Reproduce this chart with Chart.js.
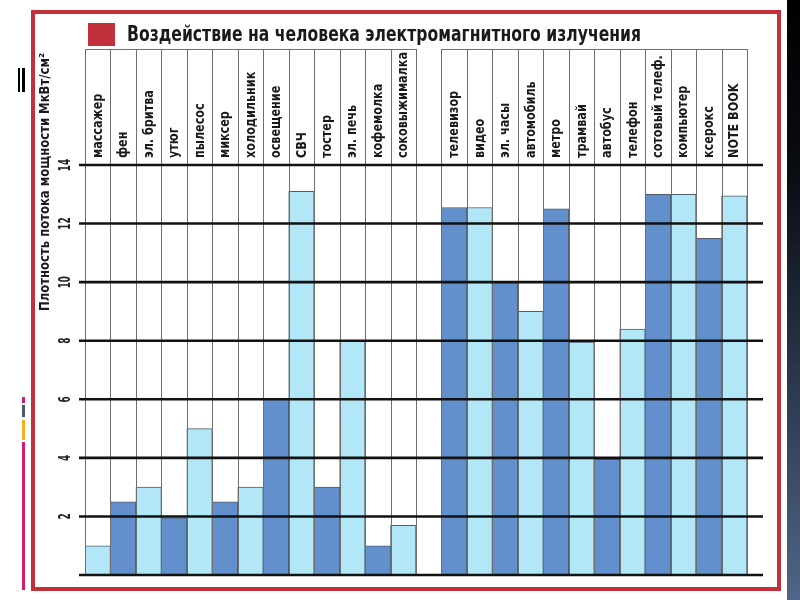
<!DOCTYPE html>
<html>
<head>
<meta charset="utf-8">
<script src="https://cdn.jsdelivr.net/npm/chart.js@4.4.0/dist/chart.umd.min.js"></script>
<style>
  html, body { margin: 0; padding: 0; background: #fff; }
  #wrap { width: 800px; height: 600px; position: relative; }
</style>
</head>
<body>
<div id="wrap"><canvas id="chart" width="800" height="600"></canvas></div>
<script>
"use strict";

// Data
const titleText = 'Воздействие на человека электромагнитного излучения';
const yTitle = 'Плотность потока мощности МкВт/см²';
const categories = [
    'массажер', 'фен', 'эл. бритва', 'утюг', 'пылесос', 'миксер', 'холодильник',
    'освещение', 'СВЧ', 'тостер', 'эл. печь', 'кофемолка', 'соковыжималка',
    '',
    'телевизор', 'видео', 'эл. часы', 'автомобиль', 'метро', 'трамвай', 'автобус',
    'телефон', 'сотовый телеф.', 'компьютер', 'ксерокс', 'NOTE BOOK'
];
const values = [
    1, 2.5, 3, 1.95, 5, 2.5, 3, 6, 13.1, 3, 8, 1, 1.7,
    null,
    12.55, 12.55, 10, 9, 12.5, 7.95, 3.95, 8.4, 13, 13, 11.5, 12.95
];
const yTicks = [2, 4, 6, 8, 10, 12, 14];
const groupBreak = 13; // empty column between the two groups

const LIGHT = '#b2e7f7';
const DARK = '#6190cc';
const RED = '#c2303c';
const FONT = '"Liberation Sans Narrow", "DejaVu Sans Condensed", "Roboto", sans-serif';

function barColor(i) {
    const start = i > groupBreak ? groupBreak + 1 : 0;
    const even = (i - start) % 2 === 0;
    if (start === 0) return even ? LIGHT : DARK;
    return even ? DARK : LIGHT;
}

// draws text fitted to a given length
function fitText(ctx, text, x, y, len, size, rot) {
    ctx.save();
    ctx.font = 'bold ' + size + 'px ' + FONT;
    const w = ctx.measureText(text).width;
    ctx.translate(x, y);
    ctx.rotate(rot);
    ctx.scale(len / w, 1);
    ctx.fillText(text, 0, 0);
    ctx.restore();
}

const decor = {
    id: 'decor',
    beforeDraw(chart) {
        const ctx = chart.ctx;
        ctx.save();
        ctx.fillStyle = '#fff';
        ctx.fillRect(0, 0, 800, 600);

        // red frame
        ctx.strokeStyle = RED;
        ctx.lineWidth = 4;
        ctx.strokeRect(33, 12, 746, 577);

        // title
        ctx.fillStyle = RED;
        ctx.fillRect(88, 23, 27, 23);
        ctx.fillStyle = '#1a1a1a';
        ctx.textBaseline = 'alphabetic';
        ctx.textAlign = 'left';
        fitText(ctx, titleText, 127, 41, 514, 21, 0);

        // dark band on the right
        const g = ctx.createLinearGradient(0, 0, 0, 600);
        g.addColorStop(0, '#000');
        g.addColorStop(0.3, '#0a0d14');
        g.addColorStop(1, '#4f6688');
        ctx.fillStyle = g;
        ctx.fillRect(787, 0, 13, 600);

        // scan marks on the left
        ctx.fillStyle = '#000';
        ctx.fillRect(18, 68, 2, 24);
        ctx.fillRect(22, 68, 3, 24);
        ctx.fillStyle = '#d81b72';
        ctx.fillRect(22, 397, 3, 6);
        ctx.fillRect(22, 442, 3, 148);
        ctx.fillStyle = '#4d5a66';
        ctx.fillRect(22, 405, 3, 12);
        ctx.fillStyle = '#f0b020';
        ctx.fillRect(22, 420, 3, 20);
        ctx.restore();
    },
    afterDatasetsDraw(chart) {
        const ctx = chart.ctx;
        const xs = chart.scales.x;
        const ys = chart.scales.y;
        const area = chart.chartArea;
        const colW = (area.right - area.left) / categories.length;
        const headTop = 49;
        ctx.save();

        // vertical column lines
        ctx.strokeStyle = '#6e6e6e';
        ctx.lineWidth = 1;
        for (let i = 0; i <= categories.length; i++) {
            const x = Math.round(xs.getPixelForValue(0) - colW / 2 + i * colW) + 0.5;
            ctx.beginPath();
            ctx.moveTo(x, headTop);
            ctx.lineTo(x, area.bottom);
            ctx.stroke();
        }
        // header box tops
        const g1l = xs.getPixelForValue(0) - colW / 2;
        const g1r = xs.getPixelForValue(groupBreak - 1) + colW / 2;
        const g2l = xs.getPixelForValue(groupBreak + 1) - colW / 2;
        const g2r = xs.getPixelForValue(categories.length - 1) + colW / 2;
        ctx.beginPath();
        ctx.moveTo(g1l, headTop + 0.5); ctx.lineTo(g1r, headTop + 0.5);
        ctx.moveTo(g2l, headTop + 0.5); ctx.lineTo(g2r, headTop + 0.5);
        ctx.stroke();

        // heavy horizontal grid lines
        ctx.strokeStyle = '#111';
        ctx.lineWidth = 2.6;
        [0].concat(yTicks).forEach(v => {
            const y = ys.getPixelForValue(v);
            ctx.beginPath();
            ctx.moveTo(79, y);
            ctx.lineTo(763, y);
            ctx.stroke();
        });

        // tick labels, rotated
        ctx.fillStyle = '#222';
        ctx.textAlign = 'center';
        ctx.textBaseline = 'middle';
        yTicks.forEach(v => {
            const y = ys.getPixelForValue(v);
            const s = String(v);
            fitText(ctx, s, 66, y, s.length * 6.2, 16, -Math.PI / 2);
        });

        // category labels, reading upwards
        ctx.textAlign = 'left';
        ctx.textBaseline = 'middle';
        ctx.fillStyle = '#1a1a1a';
        ctx.font = 'bold 14px ' + FONT;
        const k = 106 / ctx.measureText('соковыжималка').width;
        categories.forEach((c, i) => {
            if (!c) return;
            const x = xs.getPixelForValue(i);
            const w = ctx.measureText(c).width * k;
            fitText(ctx, c, x + 0.5, 158, w, 14, -Math.PI / 2);
            ctx.font = 'bold 14px ' + FONT;
        });

        // y axis title
        ctx.textAlign = 'left';
        fitText(ctx, yTitle, 45, 311, 258, 14, -Math.PI / 2);
        ctx.restore();
    }
};

new Chart(document.getElementById('chart'), {
    type: 'bar',
    data: {
        labels: categories,
        datasets: [{
            data: values,
            backgroundColor: c => barColor(c.dataIndex),
            borderColor: '#4f5b68',
            borderWidth: 1,
            borderSkipped: 'bottom',
            barPercentage: 1,
            categoryPercentage: 1
        }]
    },
    options: {
        responsive: false,
        animation: false,
        layout: { padding: { left: 85, right: 53, top: 165, bottom: 25 } },
        plugins: { legend: { display: false }, tooltip: { enabled: false } },
        scales: {
            x: { display: false, offset: true },
            y: { display: false, min: 0, max: 14, ticks: { stepSize: 2 } }
        }
    },
    plugins: [decor]
});
</script>
</body>
</html>
